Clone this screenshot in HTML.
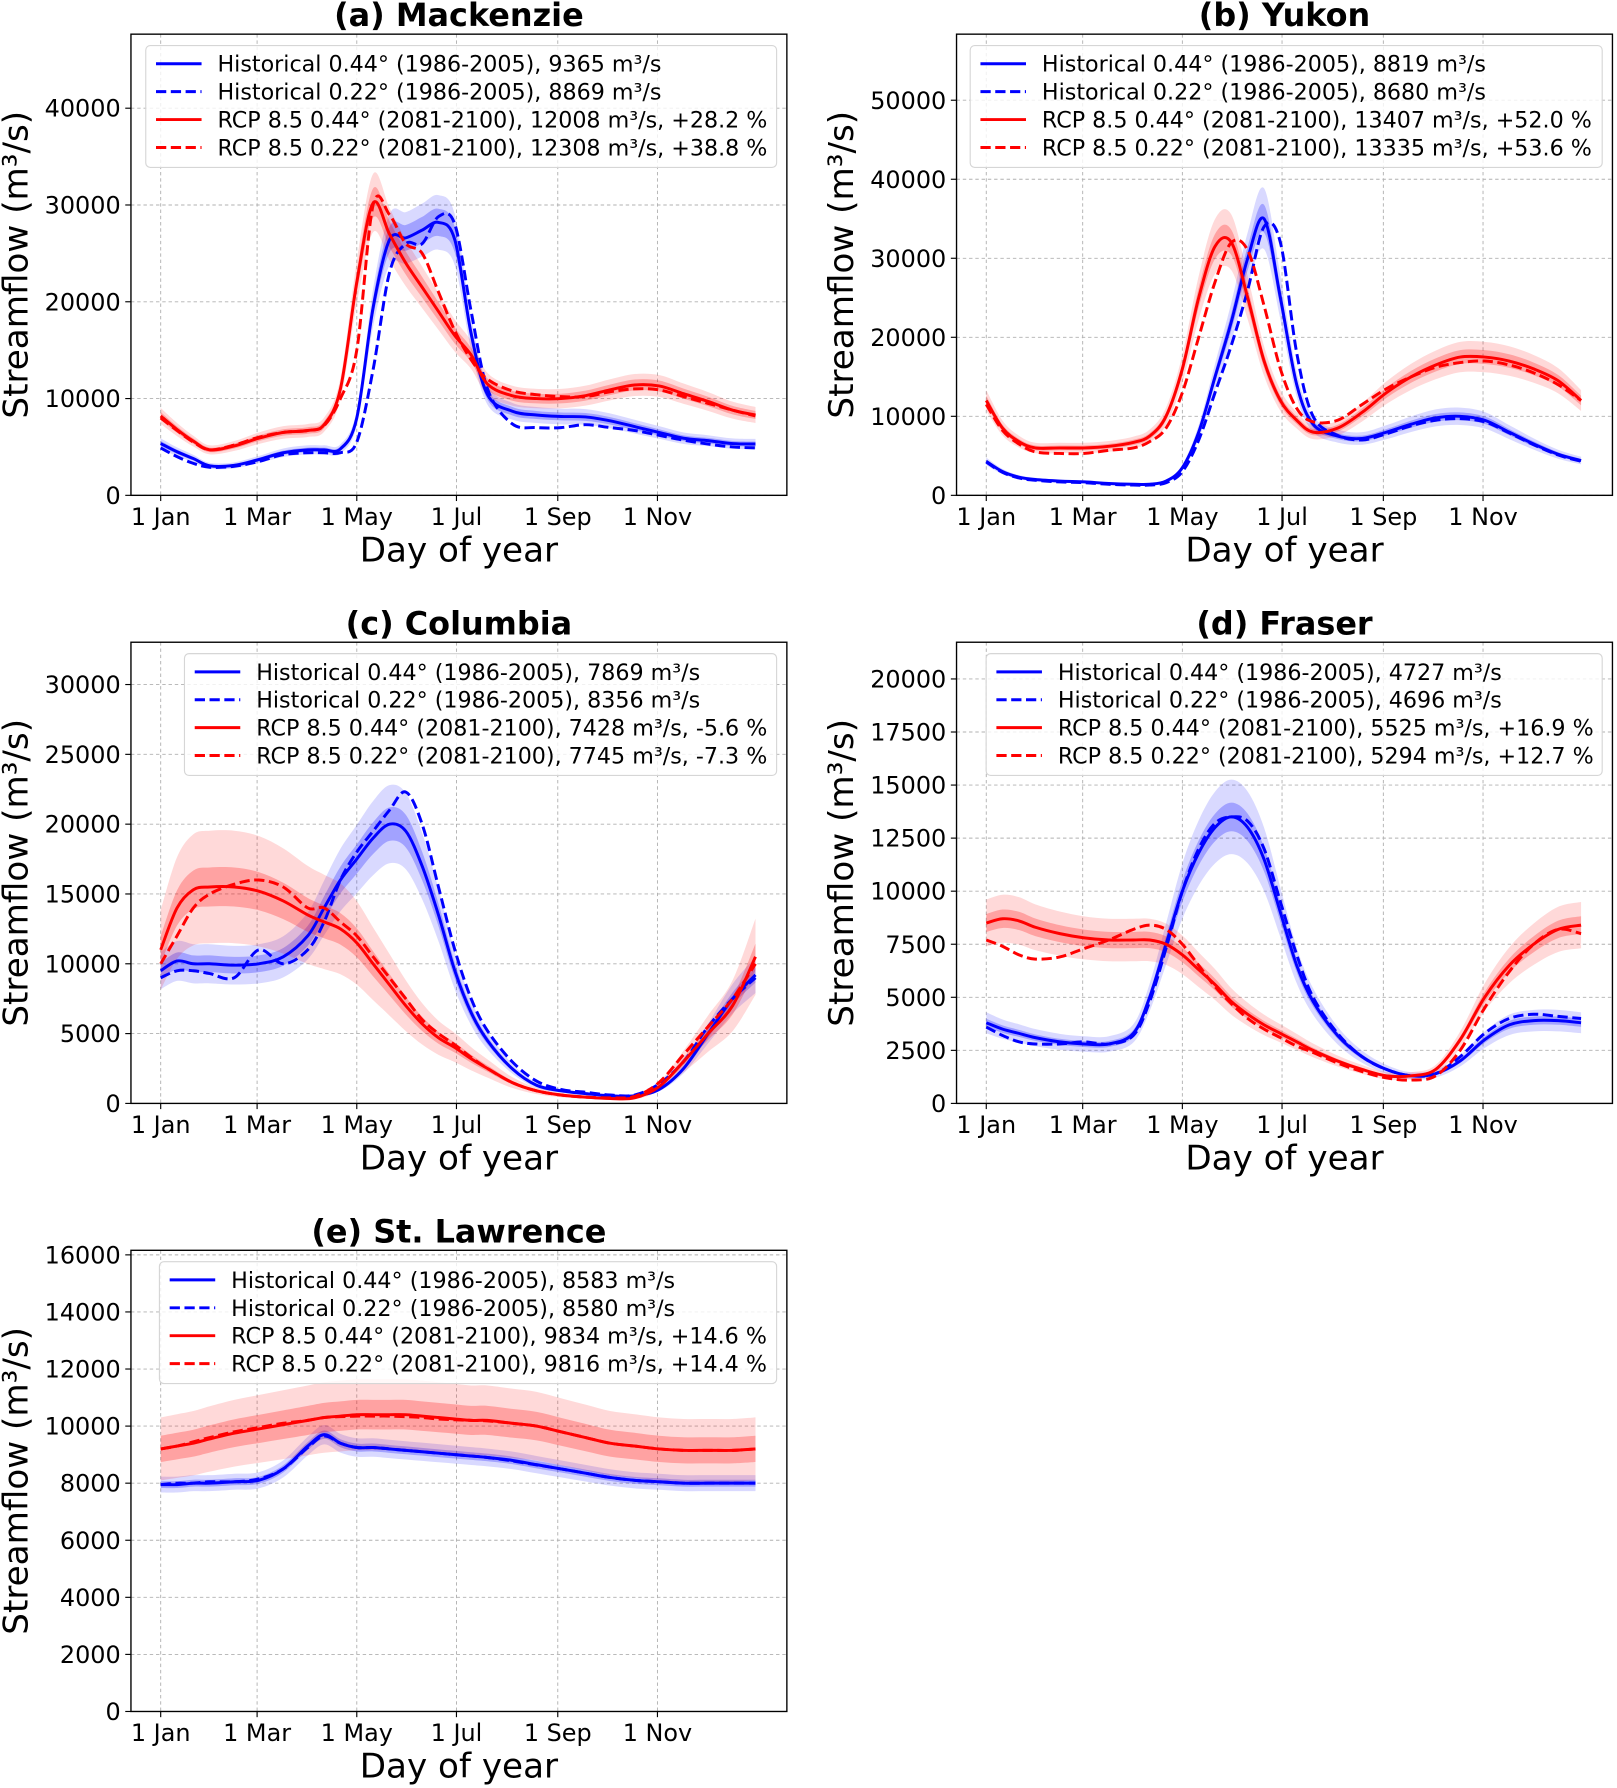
<!DOCTYPE html>
<html><head><meta charset="utf-8"><style>
html,body{margin:0;padding:0;background:#fff;}
svg{display:block;font-family:"DejaVu Sans","Liberation Sans",sans-serif;}
</style></head><body>
<svg id="fig" width="1617" height="1788" viewBox="0 0 1420 1570.2" preserveAspectRatio="none" xmlns="http://www.w3.org/2000/svg"></svg>
<script>
const days = [0,10,20,30,45,60,75,90,100,110,120,130,140,150,160,170,180,190,200,215,230,245,260,275,290,305,320,335,350,364];
const tickDays = [0,59,120,181,243,304];
const tickNames = ["1 Jan","1 Mar","1 May","1 Jul","1 Sep","1 Nov"];

// (a) Mackenzie
const macH44 = [5350,4500,3800,3050,3100,3700,4400,4700,4700,4800,8000,19400,26400,26600,27400,28200,26400,16700,10400,8700,8300,8150,8100,7700,7100,6500,5900,5650,5350,5300];
const macH22 = [4900,4000,3300,2900,3000,3500,4200,4400,4400,4400,5500,13000,23000,26000,26000,28800,28000,19000,11000,7400,7000,7000,7300,7000,6700,6200,5700,5300,5000,4900];
const macR44 = [8200,6800,5600,4700,5100,5900,6500,6700,7300,11000,22000,30200,27000,24000,21500,19000,16500,14500,11500,10300,10000,10000,10300,10900,11400,11300,10500,9700,8800,8300];
const macR22 = [8000,6700,5500,4700,5200,6000,6500,6700,7200,10000,15000,30000,29000,26000,25000,21000,17000,14000,12000,10800,10400,10200,10200,10700,11000,10900,10200,9500,8800,8200];
const macTicks = [0,10000,20000,30000,40000];
const macLegend = ["Historical 0.44° (1986-2005), 9365 m³/s","Historical 0.22° (1986-2005), 8869 m³/s","RCP 8.5 0.44° (2081-2100), 12008 m³/s, +28.2 %","RCP 8.5 0.22° (2081-2100), 12308 m³/s, +38.8 %"];

// (b) Yukon
const yukH44 = [4300,3000,2300,2000,1800,1700,1500,1400,1400,1800,3500,8000,15000,22000,30000,35000,25000,14000,9000,7500,7200,8000,9000,9800,10000,9500,8000,6500,5200,4400];
const yukH22 = [4200,2900,2200,1900,1700,1600,1400,1300,1300,1600,3000,7000,13000,19000,26000,34000,32000,18000,10000,7600,7000,7800,8800,9500,9700,9300,7900,6400,5100,4300];
const yukR44 = [12000,8500,6800,6000,6000,6000,6200,6700,7500,10000,16000,25000,31500,32000,25000,17000,12000,9500,8000,8500,10500,13000,15000,16500,17500,17500,17000,16000,14500,12000];
const yukR22 = [11500,8200,6500,5500,5300,5300,5700,6000,6800,8500,13000,20000,27000,32000,31000,24000,16000,11000,9300,9500,11500,13500,15000,16200,16800,17000,16500,15500,14000,12000];
const yukTicks = [0,10000,20000,30000,40000,50000];
const yukLegend = ["Historical 0.44° (1986-2005), 8819 m³/s","Historical 0.22° (1986-2005), 8680 m³/s","RCP 8.5 0.44° (2081-2100), 13407 m³/s, +52.0 %","RCP 8.5 0.22° (2081-2100), 13335 m³/s, +53.6 %"];

// (c) Columbia
const colH44 = [9500,10200,10000,10000,9900,10000,10500,12000,14000,16000,17500,19000,20000,19500,17000,13500,9500,6500,4500,2500,1300,900,700,550,550,1000,2500,5000,7500,9200];
const colH22 = [9000,9500,9500,9300,9000,11000,10000,11000,13000,16000,18000,19500,21000,22300,20000,15500,11000,7500,5200,3000,1600,1000,800,600,600,1400,3000,5500,7500,9000];
const colR44 = [11000,14000,15300,15500,15500,15200,14500,13500,13000,12500,11500,10000,8500,7000,5700,4700,4000,3200,2500,1500,900,600,450,350,400,1200,3000,5000,7000,10500];
const colR22 = [10000,12000,14000,15000,15700,16000,15500,14000,14000,13000,12000,10500,9000,7500,6000,5000,4200,3300,2500,1500,900,600,450,400,500,1500,3500,5500,7500,10000];
const colTicks = [0,5000,10000,15000,20000,25000,30000];
const colLegend = ["Historical 0.44° (1986-2005), 7869 m³/s","Historical 0.22° (1986-2005), 8356 m³/s","RCP 8.5 0.44° (2081-2100), 7428 m³/s, -5.6 %","RCP 8.5 0.22° (2081-2100), 7745 m³/s, -7.3 %"];

// (d) Fraser
const fraH44 = [3800,3500,3300,3100,2900,2800,2800,3300,5000,7500,10000,11800,13000,13500,13000,11500,9000,6500,4800,3200,2200,1600,1300,1400,2000,3000,3700,3900,3900,3800];
const fraH22 = [3600,3200,2900,2800,2800,2900,2800,3200,4800,7300,10000,12000,13200,13500,13300,12000,9500,7000,5000,3300,2200,1600,1300,1400,2200,3300,4000,4200,4100,4000];
const fraR44 = [8500,8700,8600,8300,8000,7800,7700,7700,7700,7500,7000,6300,5600,4800,4200,3700,3300,2900,2500,2000,1600,1300,1300,1600,3000,5000,6500,7500,8200,8400];
const fraR22 = [7700,7400,7000,6800,6900,7300,7700,8200,8400,8200,7500,6500,5500,4700,4000,3500,3100,2700,2400,1900,1500,1200,1100,1300,2500,4500,6200,7500,8200,8000];
const fraTicks = [0,2500,5000,7500,10000,12500,15000,17500,20000];
const fraLegend = ["Historical 0.44° (1986-2005), 4727 m³/s","Historical 0.22° (1986-2005), 4696 m³/s","RCP 8.5 0.44° (2081-2100), 5525 m³/s, +16.9 %","RCP 8.5 0.22° (2081-2100), 5294 m³/s, +12.7 %"];

// (e) St. Lawrence
const stlH44 = [7950,7950,8000,8000,8050,8100,8500,9300,9700,9400,9250,9250,9200,9150,9100,9050,9000,8950,8900,8800,8650,8500,8350,8200,8100,8050,8000,8000,8000,8000];
const stlH22 = [7950,8000,8000,8050,8050,8150,8500,9250,9650,9400,9250,9250,9200,9150,9100,9050,9000,8950,8900,8780,8640,8500,8350,8200,8100,8050,8000,8000,8000,8000];
const stlR44 = [9200,9300,9400,9550,9750,9900,10050,10200,10300,10350,10400,10400,10400,10400,10350,10300,10250,10200,10200,10100,10000,9800,9600,9400,9300,9200,9150,9150,9150,9200];
const stlR22 = [9200,9300,9450,9600,9800,9950,10100,10200,10300,10330,10350,10350,10350,10330,10300,10250,10220,10200,10180,10100,10000,9800,9600,9400,9300,9200,9150,9150,9150,9200];
const stlTicks = [0,2000,4000,6000,8000,10000,12000,14000,16000];
const stlLegend = ["Historical 0.44° (1986-2005), 8583 m³/s","Historical 0.22° (1986-2005), 8580 m³/s","RCP 8.5 0.44° (2081-2100), 9834 m³/s, +14.6 %","RCP 8.5 0.22° (2081-2100), 9816 m³/s, +14.4 %"];

const NS = "http://www.w3.org/2000/svg";
const svg = document.getElementById("fig");
function mk(tag, attrs, parent){const e=document.createElementNS(NS,tag);for(const k in attrs)e.setAttribute(k,attrs[k]);(parent||svg).appendChild(e);return e;}

function smoothPath(pts){
  let d="M"+pts[0][0].toFixed(2)+","+pts[0][1].toFixed(2);
  for(let i=0;i<pts.length-1;i++){
    const p0=pts[Math.max(0,i-1)],p1=pts[i],p2=pts[i+1],p3=pts[Math.min(pts.length-1,i+2)];
    const c1x=p1[0]+(p2[0]-p0[0])/6,c1y=p1[1]+(p2[1]-p0[1])/6;
    const c2x=p2[0]-(p3[0]-p1[0])/6,c2y=p2[1]-(p3[1]-p1[1])/6;
    d+=" C"+c1x.toFixed(2)+","+c1y.toFixed(2)+" "+c2x.toFixed(2)+","+c2y.toFixed(2)+" "+p2[0].toFixed(2)+","+p2[1].toFixed(2);
  }
  return d;
}
function smoothCont(pts){return smoothPath(pts).replace(/^M/,"L");}

function panel(cfg){
  const g=mk("g",{});
  
  
  const L=cfg.x0,R=cfg.x1,T=cfg.y0,B=cfg.y1;
  const xmin=-18.2,xmax=383.2;
  const X=d=>L+(d-xmin)/(xmax-xmin)*(R-L);
  const Y=v=>B-v/cfg.ymax*(B-T);
  const clipId="clip-"+cfg.name;
  const cp=mk("clipPath",{id:clipId},g);mk("rect",{x:L,y:T,width:R-L,height:B-T},cp);
  tickDays.forEach((d,i)=>{
    const gl=mk("line",{x1:X(d),x2:X(d),y1:T,y2:B,stroke:"#b0b0b0","stroke-width":0.8,"stroke-dasharray":"3,2.5"},g);
    
    
    mk("line",{x1:X(d),x2:X(d),y1:B,y2:B+5,stroke:"#000","stroke-width":1},g);
    const t=mk("text",{x:X(d),y:B+26,"font-size":21,"text-anchor":"middle"},g);t.textContent=tickNames[i];
    
    
  });
  cfg.ticks.forEach(v=>{
    const gl=mk("line",{x1:L,x2:R,y1:Y(v),y2:Y(v),stroke:"#b0b0b0","stroke-width":0.8,"stroke-dasharray":"3,2.5"},g);
    
    
    mk("line",{x1:L-5,x2:L,y1:Y(v),y2:Y(v),stroke:"#000","stroke-width":1},g);
    const t=mk("text",{x:L-9,y:Y(v)+7.5,"font-size":21,"text-anchor":"end"},g);t.textContent=String(v);
    
    
  });
  const pg=mk("g",{"clip-path":"url(#"+clipId+")"},g);
  function band(vals,frac,color,op,nm){
    const up=days.map((d,i)=>[X(d),Y(vals[i]*(1+frac))]);
    const lo=days.map((d,i)=>[X(d),Y(vals[i]*(1-frac))]).reverse();
    const p=mk("path",{d:smoothPath(up)+" "+smoothCont(lo)+" Z",fill:color,"fill-opacity":op,stroke:"none"},pg);
    
    
  }
  band(cfg.h44,cfg.hOut,"#0000ff",0.15,"hist-outer-band");
  band(cfg.h44,cfg.hIn,"#0000ff",0.25,"hist-inner-band");
  band(cfg.r44,cfg.rOut,"#ff0000",0.15,"rcp-outer-band");
  band(cfg.r44,cfg.rIn,"#ff0000",0.25,"rcp-inner-band");
  function line(vals,color,dash,nm){
    const pts=days.map((d,i)=>[X(d),Y(vals[i])]);
    const a={d:smoothPath(pts),fill:"none",stroke:color,"stroke-width":2.6};
    if(dash)a["stroke-dasharray"]="9,4";
    const p=mk("path",a,pg);
    
    
  }
  line(cfg.h44,"#0000ff",false,"hist-044-line");
  line(cfg.h22,"#0000ff",true,"hist-022-line");
  line(cfg.r44,"#ff0000",false,"rcp-044-line");
  line(cfg.r22,"#ff0000",true,"rcp-022-line");
  const fr=mk("rect",{x:L,y:T,width:R-L,height:B-T,fill:"none",stroke:"#000","stroke-width":1.2},g);
  
  
  const lg=mk("g",{},g);
  
  
  mk("rect",{x:cfg.lx,y:T+10,width:R-9-cfg.lx,height:107,rx:4,fill:"#fff","fill-opacity":0.8,stroke:"#d6d6d6","stroke-width":1},lg);
  const cols=["#0000ff","#0000ff","#ff0000","#ff0000"];
  cfg.legend.forEach((s,i)=>{
    const yy=T+26+i*24.5;
    const a={x1:cfg.lx+9,x2:cfg.lx+49,y1:yy,y2:yy,stroke:cols[i],"stroke-width":2.6};
    if(i%2)a["stroke-dasharray"]="9,4";
    const ln=mk("line",a,lg);
    
    
    const t=mk("text",{x:cfg.lx+63,y:yy+7,"font-size":19.5},lg);t.textContent=s;
    
    
  });
  const tt=mk("text",{x:(L+R)/2,y:T-7,"font-size":28,"font-weight":"bold","text-anchor":"middle"},g);tt.textContent=cfg.title;
  
  
  const xl=mk("text",{x:(L+R)/2,y:B+58,"font-size":30,"text-anchor":"middle"},g);xl.textContent="Day of year";
  
  
  const yx=L-91, yc=(T+B)/2;
  const yl=mk("text",{x:yx,y:yc,"font-size":30,"text-anchor":"middle",transform:"rotate(-90 "+yx+" "+yc+")"},g);yl.textContent="Streamflow (m³/s)";
  
  
}

panel({name:"panel-mackenzie",title:"(a) Mackenzie",x0:115,x1:691,y0:30,y1:435,ymax:47650,ticks:macTicks,h44:macH44,h22:macH22,r44:macR44,r22:macR22,legend:macLegend,lx:128,hIn:0.05,hOut:0.1,rIn:0.05,rOut:0.1});
panel({name:"panel-yukon",title:"(b) Yukon",x0:840,x1:1416,y0:30,y1:435,ymax:58360,ticks:yukTicks,h44:yukH44,h22:yukH22,r44:yukR44,r22:yukR22,legend:yukLegend,lx:852,hIn:0.05,hOut:0.11,rIn:0.05,rOut:0.11});
panel({name:"panel-columbia",title:"(c) Columbia",x0:115,x1:691,y0:564,y1:969,ymax:33030,ticks:colTicks,h44:colH44,h22:colH22,r44:colR44,r22:colR22,legend:colLegend,lx:162,hIn:0.06,hOut:0.14,rIn:0.09,rOut:0.26});
panel({name:"panel-fraser",title:"(d) Fraser",x0:840,x1:1416,y0:564,y1:969,ymax:21730,ticks:fraTicks,h44:fraH44,h22:fraH22,r44:fraR44,r22:fraR22,legend:fraLegend,lx:866,hIn:0.05,hOut:0.13,rIn:0.05,rOut:0.13});
panel({name:"panel-st-lawrence",title:"(e) St. Lawrence",x0:115,x1:691,y0:1098,y1:1503,ymax:16160,ticks:stlTicks,h44:stlH44,h22:stlH22,r44:stlR44,r22:stlR22,legend:stlLegend,lx:140,hIn:0.015,hOut:0.035,rIn:0.05,rOut:0.12});
</script>
</body></html>
